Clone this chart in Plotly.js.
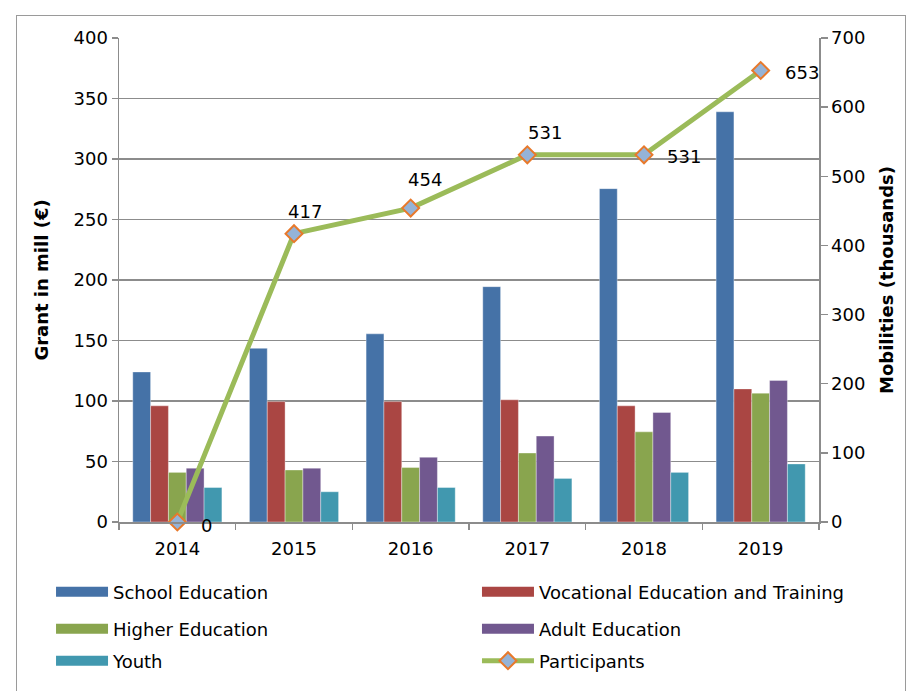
<!DOCTYPE html>
<html><head><meta charset="utf-8">
<script src="https://cdn.plot.ly/plotly-3.0.1.min.js"></script>
<style>
body{margin:0;background:#fff}
#chart{width:906px;height:691px}
#frame{position:absolute;left:16px;top:15px;width:888px;height:700px;border:1.5px solid #9a9a9a;pointer-events:none}
</style>
</head><body>
<div id="chart"></div><div id="frame"></div>
<script>
// ---- data ----
const years = ['2014', '2015', '2016', '2017', '2018', '2019'];
const schoolEducation = [124, 143.5, 155.5, 194.5, 275.5, 339];
const vocationalEducation = [96, 99.5, 99.5, 101, 96, 110];
const higherEducation = [41, 43, 45, 57, 74.5, 106.5];
const adultEducation = [44.5, 44.5, 53.5, 71, 90.5, 117];
const youth = [28.5, 25, 28.5, 36, 41, 48];
const participants = [0, 417, 454, 531, 531, 653];
const seriesNames = ['School Education', 'Vocational Education and Training', 'Higher Education', 'Adult Education', 'Youth', 'Participants'];

// ---- styles ----
const barColors = ['#4572A7', '#AA4643', '#89A54E', '#71588F', '#4198AF'];
const legendIds = ['legend', 'legend2', 'legend3', 'legend4', 'legend5', 'legend6'];
const legendX = [-0.0971, 0.5114, -0.0971, 0.5114, -0.0971, 0.5114];   // paper fractions
const legendY = [-0.1446, -0.1446, -0.2211, -0.2211, -0.2872, -0.2872];
const labelShiftX = [29, 11, 14, 18, 40, 41];
const labelShiftY = [-3, 22, 29, 22, -2, -2];
const FONT = 'DejaVu Sans, Verdana, sans-serif';
const GRID = '#8c8c8c';

const barSeries = [schoolEducation, vocationalEducation, higherEducation, adultEducation, youth];
const traces = [];
barSeries.forEach((vals, i) => {
  traces.push({
    type: 'bar', x: years, y: vals, name: seriesNames[i], showlegend: false,
    marker: {color: barColors[i], line: {color: 'rgba(255,255,255,0.45)', width: 0.8}},
    hoverinfo: 'skip'
  });
});
// legend entries (wide swatches) on hidden helper axes
barSeries.forEach((vals, i) => {
  traces.push({
    type: 'scatter', mode: 'lines', x: [years[0]], y: [null], xaxis: 'x2', yaxis: 'y3',
    name: seriesNames[i], legend: legendIds[i],
    line: {color: barColors[i], width: 12}, hoverinfo: 'skip'
  });
});
traces.push({
  type: 'scatter', mode: 'lines+markers', x: years, y: participants, yaxis: 'y2',
  name: seriesNames[5], legend: legendIds[5], cliponaxis: false,
  line: {color: '#9BBB59', width: 5},
  marker: {symbol: 'diamond', size: 13, color: '#95B3D7', line: {color: '#E8792B', width: 2}},
  hoverinfo: 'skip'
});

// data labels: x given as category index
const annotations = participants.map((v, i) => ({
  x: years.indexOf(years[i]), y: v, xref: 'x', yref: 'y2', text: String(v), showarrow: false,
  xshift: labelShiftX[i], yshift: labelShiftY[i],
  font: {family: FONT, size: 18, color: '#000'}
}));

const layout = {
  width: 906, height: 691,
  margin: {l: 119, r: 87, t: 38, b: 169},
  paper_bgcolor: '#fff', plot_bgcolor: '#fff',
  barmode: 'group', bargap: 0.236, bargroupgap: 0,
  font: {family: FONT, size: 18, color: '#000'},
  showlegend: true,
  xaxis: {
    type: 'category', categoryorder: 'array', categoryarray: years, range: [-0.5, 5.5],
    ticks: 'outside', ticklen: 6, tickwidth: 1.5, tickson: 'boundaries', ticklabelstandoff: 10,
    tickcolor: GRID, showline: true, linecolor: GRID, linewidth: 1.5, showgrid: false,
    tickfont: {family: FONT, size: 18, color: '#000'}, fixedrange: true
  },
  xaxis2: {overlaying: 'x', visible: false, type: 'category', fixedrange: true},
  yaxis: {
    range: [0, 400], dtick: 50, ticks: 'outside', ticklen: 6, tickwidth: 1.5, tickcolor: GRID,
    showline: true, linecolor: GRID, linewidth: 1.5, showgrid: true, gridcolor: GRID, gridwidth: 1.5,
    zeroline: false, tickfont: {family: FONT, size: 18, color: '#000'},
    title: {text: 'Grant in mill (€)', font: {family: FONT, size: 18, weight: 'bold', color: '#000'}, standoff: 20},
    fixedrange: true
  },
  yaxis2: {
    overlaying: 'y', side: 'right', range: [0, 700], dtick: 100, ticks: 'outside', ticklen: 7, tickwidth: 1.5,
    tickcolor: GRID, showline: true, linecolor: GRID, linewidth: 1.5, showgrid: false, zeroline: false,
    tickfont: {family: FONT, size: 18, color: '#000'},
    title: {text: 'Mobilities (thousands)', font: {family: FONT, size: 18, weight: 'bold', color: '#000'}, standoff: 16},
    fixedrange: true
  },
  yaxis3: {overlaying: 'y', visible: false, range: [0, 1], fixedrange: true},
  annotations: annotations
};
legendIds.forEach((id, i) => {
  layout[id] = {
    x: legendX[i], y: legendY[i],
    xanchor: 'left', yanchor: 'middle', itemwidth: 52,
    font: {family: FONT, size: 18, color: '#000'}, bgcolor: 'rgba(0,0,0,0)',
    itemclick: false, itemdoubleclick: false
  };
});

Plotly.newPlot('chart', traces, layout, {displayModeBar: false, staticPlot: true});
</script>
</body></html>
